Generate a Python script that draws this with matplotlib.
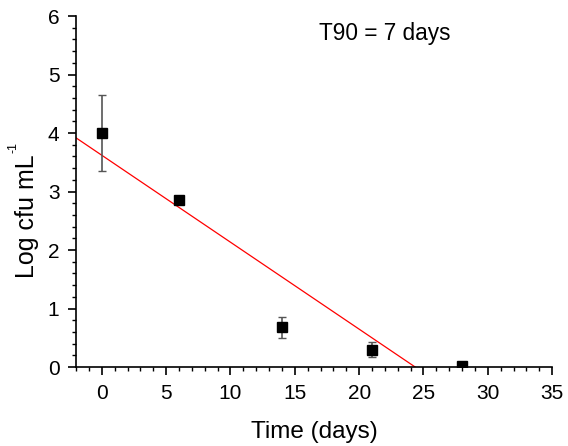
import numpy as np
import matplotlib
matplotlib.use("Agg")
import matplotlib.pyplot as plt
from matplotlib.ticker import MultipleLocator

plt.rcParams['font.family'] = ['Liberation Sans', 'DejaVu Sans']

# measured survival data
time_days = [0, 6, 14, 21, 28]
log_cfu = [4.0, 2.85, 0.68, 0.30, 0.02]
log_err = [0.65, 0.05, 0.18, 0.12, 0.0]

# fitted decay line
fit_intercept = 3.62
fit_slope = -0.1486

fig = plt.figure(figsize=(5.68, 4.46), dpi=100)
ax = fig.add_axes([0.134, 0.177, 0.838, 0.787])

xl = np.linspace(-2, -fit_intercept / fit_slope, 50)
ax.plot(xl, fit_intercept + fit_slope * xl, color='red', lw=0.9)

ax.errorbar(time_days, log_cfu, yerr=log_err, fmt='s', color='black',
            ecolor='#555555', elinewidth=1.2, capsize=3, capthick=1,
            markersize=7.5, zorder=3)

ax.text(22, 5.7, "T90 = 7 days", fontsize=16.3, ha='center', va='center')

ax.set_xlim(-2, 35)
ax.set_ylim(0, 6)
ax.xaxis.set_major_locator(MultipleLocator(5))
ax.xaxis.set_minor_locator(MultipleLocator(1))
ax.yaxis.set_major_locator(MultipleLocator(1))
ax.yaxis.set_minor_locator(MultipleLocator(0.2))
ax.spines['top'].set_visible(False)
ax.spines['right'].set_visible(False)
for s in ['left', 'bottom']:
    ax.spines[s].set_linewidth(1.2)
ax.tick_params(which='major', direction='out', length=6, width=1.2, labelsize=15, pad=6)
ax.tick_params(which='minor', direction='out', length=3, width=1)

ax.set_xlabel("Time (days)", fontsize=17.5, labelpad=13)

# y label with a small hyphen superscript, as in the original
ax.text(-0.103, 0.43, "Log cfu mL", transform=ax.transAxes, rotation=90,
        fontsize=18, ha='center', va='center')
ax.text(-0.131, 0.625, "-1", transform=ax.transAxes, rotation=90,
        fontsize=9, ha='center', va='center')

fig.savefig("out.png", dpi=100)
